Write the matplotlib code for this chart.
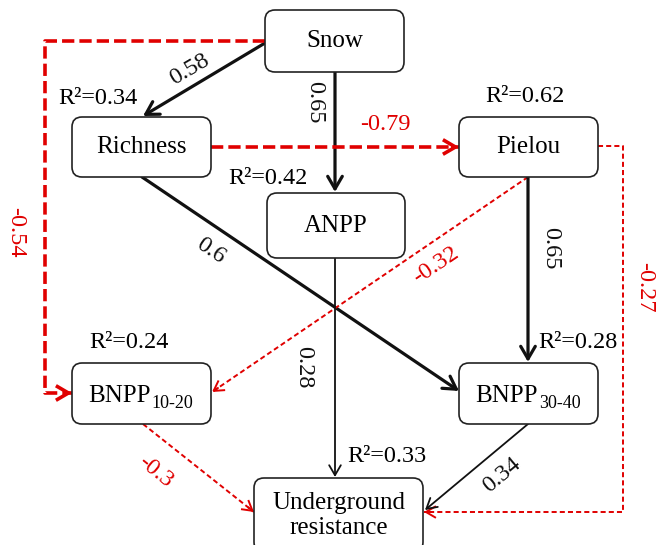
import matplotlib
matplotlib.use("Agg")
import matplotlib.pyplot as plt
from matplotlib.patches import FancyBboxPatch, FancyArrowPatch

plt.rcParams['font.family'] = ['Liberation Serif', 'DejaVu Serif']

# ---------------- data ----------------
nodes = ["Snow", "Richness", "Pielou", "ANPP", "BNPP10-20", "BNPP30-40", "Underground resistance"]
r2_nodes = ["Richness", "Pielou", "ANPP", "BNPP10-20", "BNPP30-40", "Underground resistance"]
r2_values = [0.34, 0.62, 0.42, 0.24, 0.28, 0.33]
path_from = ["Snow", "Snow", "Snow", "Richness", "Richness", "Pielou", "Pielou", "Pielou", "ANPP", "BNPP10-20", "BNPP30-40"]
path_to = ["Richness", "ANPP", "BNPP10-20", "Pielou", "BNPP30-40", "BNPP10-20", "BNPP30-40", "Underground resistance",
           "Underground resistance", "Underground resistance", "Underground resistance"]
path_coef = ["0.58", "0.65", "-0.54", "-0.79", "0.6", "-0.32", "0.65", "-0.27", "0.28", "-0.3", "0.34"]
path_strong = [True, True, True, True, True, False, True, False, False, False, False]

# ---------------- layout (pixel space) ----------------
W, H = 658, 545
fig = plt.figure(figsize=(W / 100, H / 100), dpi=100)
ax = fig.add_axes([0, 0, 1, 1])
ax.set_xlim(0, W)
ax.set_ylim(H, 0)
ax.axis('off')

boxes = {  # x0, y0, x1, y1
    "Snow": (265, 10, 404, 72),
    "Richness": (72, 117, 211, 177),
    "Pielou": (459, 117, 598, 177),
    "ANPP": (267, 193, 405, 258),
    "BNPP10-20": (72, 363, 211, 424),
    "BNPP30-40": (459, 363, 598, 424),
    "Underground resistance": (254, 478, 423, 552),
}
for n in nodes:
    x0, y0, x1, y1 = boxes[n]
    ax.add_patch(FancyBboxPatch((x0, y0), x1 - x0, y1 - y0,
                                boxstyle="round,pad=0,rounding_size=10",
                                fc='white', ec='#222222', lw=1.2, zorder=3))

FS = 18
def node_label(n):
    x0, y0, x1, y1 = boxes[n]
    cx, cy = (x0 + x1) / 2, (y0 + y1) / 2
    if n.startswith("BNPP"):
        sub = n[4:]
        t = ax.text(x0 + 16, cy + 9, "BNPP", fontsize=FS, ha='left', va='baseline', zorder=4)
        ax.annotate(sub, xy=(1, 0), xycoords=t, xytext=(1, 0), textcoords='offset points',
                    fontsize=13, ha='left', va='baseline', zorder=4)
    elif n == "Underground resistance":
        ax.text(cx, 509, "Underground", fontsize=FS, ha='center', va='baseline', zorder=4)
        ax.text(cx, 534, "resistance", fontsize=FS, ha='center', va='baseline', zorder=4)
    else:
        ax.text(cx, cy, n, fontsize=FS, ha='center', va='center', zorder=4)

for n in nodes:
    node_label(n)

# R2 labels
r2_pos = {
    "Richness": (98, 98), "Pielou": (525, 97), "ANPP": (268, 178),
    "BNPP10-20": (129, 343), "BNPP30-40": (578, 342), "Underground resistance": (387, 457),
}
LFS = 17.5
for n, v in zip(r2_nodes, r2_values):
    x, y = r2_pos[n]
    ax.text(x, y, f"R²={v:.2f}", fontsize=LFS, ha='center', va='center', zorder=4)

BLACK = '#111111'
RED = '#e00000'

# path geometry (polyline points) and label positions / rotations
geom = {
    ("Snow", "Richness"): [(265, 43), (143, 116)],
    ("Snow", "ANPP"): [(335, 72), (335, 192)],
    ("Snow", "BNPP10-20"): [(265, 41), (45, 41), (45, 393), (72, 393)],
    ("Richness", "Pielou"): [(211, 147), (459, 147)],
    ("Richness", "BNPP30-40"): [(142, 177), (459, 391)],
    ("Pielou", "BNPP10-20"): [(528, 177), (212, 392)],
    ("Pielou", "BNPP30-40"): [(528, 177), (528, 362)],
    ("Pielou", "Underground resistance"): [(598, 146), (623, 146), (623, 512), (424, 512)],
    ("ANPP", "Underground resistance"): [(335, 258), (335, 477)],
    ("BNPP10-20", "Underground resistance"): [(143, 424), (254, 512)],
    ("BNPP30-40", "Underground resistance"): [(528, 424), (425, 510)],
}
label = {
    ("Snow", "Richness"): (190, 70, 30.5),
    ("Snow", "ANPP"): (315, 102, 270),
    ("Snow", "BNPP10-20"): (16, 232, 270),
    ("Richness", "Pielou"): (385, 124, 0),
    ("Richness", "BNPP30-40"): (211, 251, -34),
    ("Pielou", "BNPP10-20"): (436, 265, 34),
    ("Pielou", "BNPP30-40"): (551, 248, 270),
    ("Pielou", "Underground resistance"): (645, 287, 270),
    ("ANPP", "Underground resistance"): (304, 367, 270),
    ("BNPP10-20", "Underground resistance"): (155, 472, -39),
    ("BNPP30-40", "Underground resistance"): (502, 475, 40),
}

def draw_path(pts, color, lw, dashed, head_scale):
    xs = [p[0] for p in pts]
    ys = [p[1] for p in pts]
    (ax0, ay0), (ax1, ay1) = pts[-2], pts[-1]
    style = f"->,head_length={0.6*head_scale},head_width={0.35*head_scale}"
    if dashed:
        d = (3.4, 1.4) if lw > 2 else (2.6, 1.6)
        ax.plot(xs, ys, color=color, lw=lw, dashes=d, solid_capstyle='butt', zorder=2)
        L = ((ax1 - ax0) ** 2 + (ay1 - ay0) ** 2) ** 0.5
        f = 8 / L
        start = (ax1 - (ax1 - ax0) * f, ay1 - (ay1 - ay0) * f)
        ax.add_patch(FancyArrowPatch(start, (ax1, ay1), arrowstyle=style,
                                     mutation_scale=15, color=color, lw=lw, shrinkA=0, shrinkB=0, zorder=2,
                                     joinstyle='miter', capstyle='butt'))
    else:
        ax.plot(xs[:-1], ys[:-1], color=color, lw=lw, zorder=2)
        ax.add_patch(FancyArrowPatch((ax0, ay0), (ax1, ay1), arrowstyle=style,
                                     mutation_scale=15, color=color, lw=lw, shrinkA=0, shrinkB=0, zorder=2))

for a, b, c, strong in zip(path_from, path_to, path_coef, path_strong):
    neg = c.startswith('-')
    color = RED if neg else BLACK
    if neg:
        lw = 2.6 if strong else 1.4
    else:
        lw = 2.3 if strong else 1.3
    hs = 1.0 if strong else 0.8
    draw_path(geom[(a, b)], color, lw, neg, hs)
    x, y, rot = label[(a, b)]
    ax.text(x, y, c, fontsize=LFS, color=color, ha='center', va='center', rotation=rot,
            rotation_mode='anchor', zorder=4)

fig.savefig("out.png", dpi=100)
